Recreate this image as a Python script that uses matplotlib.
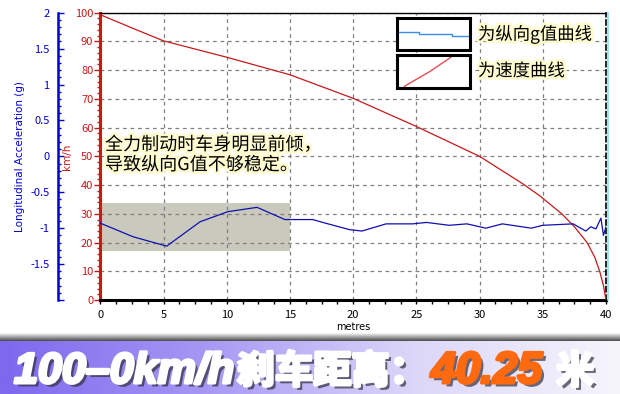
import numpy as np
import matplotlib.pyplot as plt
import matplotlib.patheffects as pe
from matplotlib.patches import Rectangle
from matplotlib.lines import Line2D
from matplotlib.colors import LinearSegmentedColormap
from matplotlib.ticker import MultipleLocator, FuncFormatter

plt.rcParams['font.family'] = ['Noto Sans CJK SC', 'DejaVu Sans']

# speed trace, km/h against distance in metres
speed_dist = [0, 2.5, 5, 10, 15, 20, 25, 30, 33.4, 34.75, 36.5, 37.5, 38.5,
              39.1, 39.5, 39.8, 40]
speed_kmh = [99.3, 94.7, 90.2, 84.5, 78.4, 70.2, 60.4, 50.0, 40.5, 36.3, 30.0,
             25.5, 20.0, 15.0, 10.0, 5.0, 0]

# longitudinal acceleration, g against distance in metres
acc_dist = [0, 2.6, 5.25, 7.9, 10.1, 12.4, 14.6, 15.0, 16.8, 17.6, 19.7, 20.7,
            22.6, 24.7, 25.8, 27.6, 29.0, 30.5, 31.8, 34.1, 35.0, 37.4, 38.4,
            38.8, 39.2, 39.6, 39.8, 40.0]
acc_g = [-0.93, -1.12, -1.25, -0.91, -0.77, -0.71, -0.88, -0.88, -0.88, -0.92,
         -1.02, -1.04, -0.94, -0.94, -0.92, -0.96, -0.94, -1.00, -0.94, -1.00,
         -0.96, -0.94, -1.04, -0.98, -1.01, -0.86, -1.10, -0.98]

# highlighted unstable zone (distance, km/h)
zone_x = [0, 15]
zone_kmh = [17.2, 33.9]

# legend sample traces
leg_g_x = [0.0, 0.3, 0.3, 0.75, 0.75, 1.0]
leg_g_y = [0.55, 0.55, 0.5, 0.5, 0.45, 0.45]
leg_v_x = [0.1, 0.45, 0.75]
leg_v_y = [0.05, 0.5, 0.95]

note = "全力制动时车身明显前倾，\n导致纵向G值不够稳定。"
# text, colour, font size
banner_parts = [("100–0km/h", "white", 31), ("刹车距离：", "white", 27.5),
                ("40.25", "#ff6a10", 32), (" 米", "white", 27.5)]

W, H = 620, 394
fig = plt.figure(figsize=(6.2, 3.94), dpi=100)
fig.patch.set_facecolor("white")

RED = "#c41a1a"
BLUE = "#1010b0"

ax = fig.add_axes([100.3 / W, 1 - 300 / H, 505.7 / W, 287.3 / H])
ax.set_xlim(0, 40)
ax.set_ylim(0, 100)
ax.add_patch(Rectangle((zone_x[0], zone_kmh[0]), zone_x[1] - zone_x[0],
                       zone_kmh[1] - zone_kmh[0], facecolor="#c9c9bd",
                       edgecolor="none", zorder=0))
ax.plot(speed_dist, speed_kmh, color=RED, lw=0.9, zorder=3)
ax.grid(True, color="#808080", ls=(0, (3, 3)), lw=0.9)
ax.set_axisbelow(True)

ax.xaxis.set_major_locator(MultipleLocator(5))
ax.xaxis.set_minor_locator(MultipleLocator(1.25))
ax.yaxis.set_major_locator(MultipleLocator(10))
ax.yaxis.set_minor_locator(MultipleLocator(2))
ax.tick_params(axis="x", which="both", direction="out", length=3, width=1,
               labelsize=8, pad=4, colors="black")
ax.tick_params(axis="y", which="major", direction="out", length=4, width=1,
               colors=RED, labelsize=8, pad=1)
ax.tick_params(axis="y", which="minor", direction="out", length=2, width=1,
               colors=RED)
ax.set_xlabel("metres", fontsize=7, family="DejaVu Sans", labelpad=2)
ax.set_ylabel("km/h", fontsize=7.5, color=RED, family="DejaVu Sans",
              labelpad=2)
ax.spines["left"].set_color(RED)
ax.spines["left"].set_linewidth(2.2)
ax.spines["bottom"].set_color("black")
ax.spines["bottom"].set_linewidth(2.2)
ax.spines["top"].set_linewidth(1)
ax.spines["right"].set_linestyle((0, (3, 2)))
ax.spines["right"].set_linewidth(1.2)

ax2 = ax.twinx()
ax2.set_ylim(-2, 2)
ax2.plot(acc_dist, acc_g, color=BLUE, lw=0.9, zorder=4)
ax2.yaxis.tick_left()
ax2.yaxis.set_label_position("left")
ax2.spines["right"].set_visible(False)
ax2.spines["top"].set_visible(False)
ax2.spines["bottom"].set_visible(False)
ax2.spines["left"].set_position(("axes", (58 - 100.3) / 505.7))
ax2.spines["left"].set_color("#0000d0")
ax2.spines["left"].set_linewidth(1.8)
ax2.yaxis.set_major_locator(MultipleLocator(0.5))
ax2.yaxis.set_minor_locator(MultipleLocator(0.1))
ax2.yaxis.set_major_formatter(
    FuncFormatter(lambda v, p: "" if v <= -2 else "%g" % v))
ax2.tick_params(axis="y", which="major", direction="in", length=4, width=1,
                colors="#0000d0", labelsize=8, pad=6)
ax2.tick_params(axis="y", which="minor", direction="in", length=2, width=1,
                colors="#0000d0")
ax2.set_ylabel("Longitudinal Acceleration (g)", fontsize=7.5,
               color="#0000d0", family="DejaVu Sans", labelpad=4)

# cyan edge beside the dashed right border
fig.add_artist(Line2D([607.5 / W, 607.5 / W], [1 - 300 / H, 1 - 12.7 / H],
                      color="#8ee0ee", lw=1.2))

glow = [pe.withStroke(linewidth=4, foreground="#fffbd0")]
fig.text(105 / W, 1 - 155 / H, note, fontsize=13, va="center", ha="left",
         linespacing=1.15, path_effects=glow)

# legend boxes
box1 = fig.add_axes([397 / W, 1 - 50 / H, 73 / W, 32 / H])
box1.plot(leg_g_x, leg_g_y, color="#3a8ee6", lw=1)
box2 = fig.add_axes([397 / W, 1 - 88 / H, 73 / W, 33 / H])
box2.plot(leg_v_x, leg_v_y, color="#e05050", lw=1)
for b in (box1, box2):
    b.set_xlim(0, 1)
    b.set_ylim(0, 1)
    b.set_xticks([])
    b.set_yticks([])
    for s in b.spines.values():
        s.set_linewidth(2.2)
fig.text(478 / W, 1 - 34 / H, "为纵向g值曲线", fontsize=12.5, va="center",
         path_effects=glow)
fig.text(478 / W, 1 - 71 / H, "为速度曲线", fontsize=12.5, va="center",
         path_effects=glow)

# banner with purple gradient
shadow = fig.add_axes([0, 1 - 341 / H, 1, 8 / H])
shadow.imshow(np.linspace(0.97, 0.3, 20).reshape(-1, 1), cmap="gray",
              vmin=0, vmax=1, aspect="auto", extent=[0, 1, 0, 1])
shadow.set_axis_off()
band = fig.add_axes([0, 0, 1, 1 - 341 / H + 0.0001])
grad = np.linspace(0, 1, 256).reshape(1, -1)
cmap = LinearSegmentedColormap.from_list(
    "band", ["#7d68ee", "#a898f4", "#dcd6f8", "#f6f5fc"])
band.imshow(grad, cmap=cmap, aspect="auto", extent=[0, 1, 0, 1])
band.set_axis_off()

renderer = fig.canvas.get_renderer()
x = 14 / W
for txt, col, fs in banner_parts:
    shade = [pe.SimplePatchShadow(offset=(2.5, -2.5), shadow_rgbFace="#303040",
                                  alpha=0.7),
             pe.withStroke(linewidth=2.2, foreground=col)]
    t = fig.text(x, 1 - 383 / H, txt, color=col, fontsize=fs,
                 weight="heavy", style="italic", va="baseline",
                 family=["Liberation Sans", "Noto Sans CJK SC"],
                 path_effects=shade)
    bb = t.get_window_extent(renderer)
    x = bb.x1 / fig.bbox.width + 3 / W

fig.savefig("out.png", dpi=100)
